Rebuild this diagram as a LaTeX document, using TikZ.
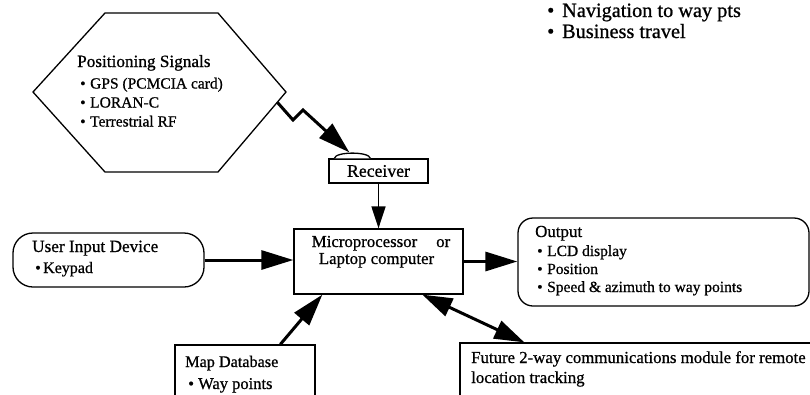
\documentclass[tikz,border=0pt]{standalone}
\usepackage{fontspec}
\setmainfont{Liberation Serif}[RawFeature={embolden=0.8}]
\usetikzlibrary{arrows.meta,calc}
\newcommand\fsz[1]{\fontsize{#1}{#1}\selectfont}
\newcommand\bul[1][10pt]{\makebox[#1][l]{\textbullet}}

\begin{document}
\begin{tikzpicture}[x=1pt,y=-1pt,
  frame/.style={draw, line width=1.3pt, inner sep=0pt, fill=white},
  txt/.style={anchor=base west, inner sep=0pt},
  head/.style={txt, font=\fsz{17.2}},
  item/.style={txt, font=\fsz{15.5}},
  bigtip/.style={-{Triangle[length=32pt,width=19pt]}},
  heavy/.style={line width=3pt, bigtip},
  twoway/.style={line width=3pt, {Triangle[length=30pt,width=19pt]}-{Triangle[length=30pt,width=19pt]}},
  light/.style={line width=1.5pt, -{Triangle[length=22pt,width=14pt]}}]
\useasboundingbox (0,0) rectangle (810,394);
\fill[white] (0,0) rectangle (810,394);

% positioning signals hexagon
\draw[line width=1.3pt] (105,13) -- (218,13) -- (286,92) -- (218,172) -- (105,172) -- (33,92) -- cycle;
\coordinate (sigout) at (277.5,102.5);

% boxes
\node[frame, minimum width=99pt, minimum height=24pt, font=\fsz{17.7}] (receiver) at (378.5,171) {Receiver};
\node[frame, minimum width=169pt, minimum height=65pt] (micro) at (378.5,261.5) {};
\node[frame, rounded corners=15pt, minimum width=291pt, minimum height=88pt] (output) at (663.5,262) {};
\node[frame, rounded corners=20pt, minimum width=191pt, minimum height=54pt] (user) at (108.5,260) {};
\node[frame, minimum width=140pt, minimum height=70pt] (map) at (245,380) {};
\node[frame, minimum width=360pt, minimum height=70pt] (future) at (640,378) {};

% antenna dome on the receiver
\draw[line width=1.3pt, fill=white] ($(receiver.north west)+(6,0)$) .. controls +(1,-7) and +(-1,-7) .. ($(receiver.north west)+(42,0)$);
\coordinate (dome) at ($(receiver.north west)+(21,-6)$);

% connectors
\draw[heavy] (sigout) -- ++(15.5,17.5) -- ++(10,-10) -- (dome);
\draw[light] (receiver.south) -- (micro.north);
\draw[heavy] (user.east) -- (user.east -| micro.west);
\draw[heavy] (micro.east) -- (micro.east -| output.west);
\draw[heavy] ($(map.north west)+(106,0)$) -- ($(micro.south west)+(29,0)$);
\draw[twoway] ($(micro.south west)+(129,0)$) -- ($(future.north west)+(65,0)$);

% applications
\node[txt, font=\fsz{20.3}] (nav) at (547,17) {\bul[15pt]Navigation to way pts};
\node[txt, font=\fsz{20.3}] (biz) at (547,38) {\bul[15pt]Business travel};

% signal sources
\node[head] (sig0) at (77,67) {Positioning Signals};
\node[item] (sig1) at (80,88.5) {\bul GPS (PCMCIA card)};
\node[item] (sig2) at (80,107.5) {\bul LORAN-C};
\node[item] (sig3) at (80,126.5) {\bul Terrestrial RF};

% processor
\node[anchor=base, inner sep=0pt, font=\fsz{16.8}] (mic1) at (381,247) {Microprocessor\hspace{19pt}or};
\node[anchor=base, inner sep=0pt, font=\fsz{16.8}] (mic2) at (376.5,264) {Laptop computer};

% output
\node[txt, font=\fsz{16.9}] (out0) at (535,237) {Output};
\node[item] (out1) at (537,256) {\bul LCD display};
\node[item] (out2) at (537,274) {\bul Position};
\node[item] (out3) at (537,292) {\bul Speed \& azimuth to way points};

% user input
\node[head] (usr0) at (32,252) {User Input Device};
\node[txt, font=\fsz{16}] (usr1) at (35,273) {\bul[8pt]Keypad};

% map database
\node[txt, font=\fsz{16.2}] (map0) at (185,367) {Map Database};
\node[txt, font=\fsz{16.5}] (map1) at (188,389) {\bul Way points};

% communications module
\node[txt, font=\fsz{16.8}] (fut1) at (471,363) {Future 2-way communications module for remote};
\node[txt, font=\fsz{16.8}] (fut2) at (471,383) {location tracking};
\end{tikzpicture}
\end{document}
